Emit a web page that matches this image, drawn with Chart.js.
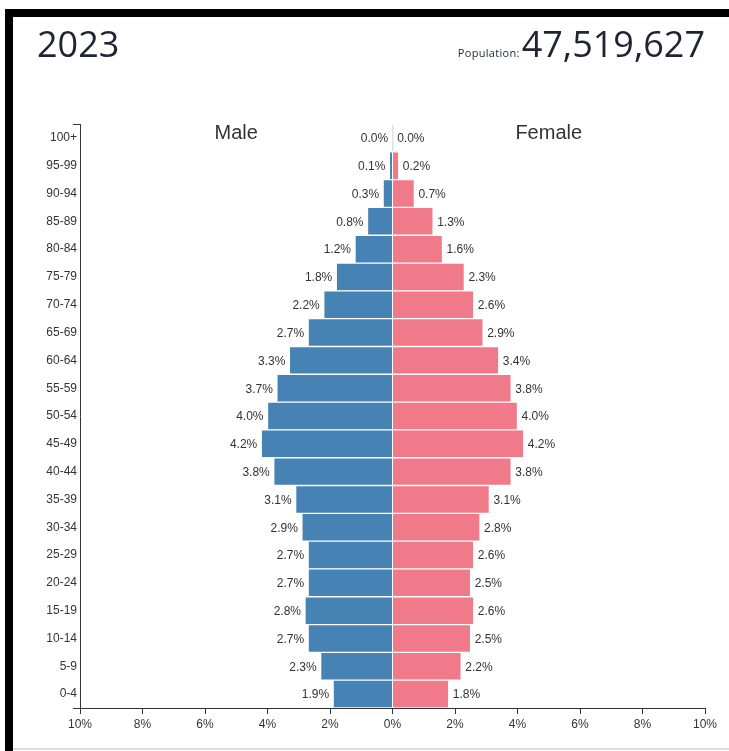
<!DOCTYPE html>
<html><head><meta charset="utf-8">
<script src="https://cdn.jsdelivr.net/npm/chart.js@4"></script>
<style>
html,body{margin:0;padding:0;background:#fff;width:729px;height:751px;overflow:hidden;}
#wrap{position:relative;width:729px;height:751px;}
#c{position:absolute;left:0;top:0;}
.fTop{position:absolute;left:5px;top:9px;width:724px;height:8px;background:#000;}
.fLeft{position:absolute;left:5px;top:9px;width:8px;height:742px;background:#000;}
.fBottom{position:absolute;left:13px;top:748px;width:716px;height:2px;background:#dcdcdc;}
#year{position:absolute;left:37px;top:26px;font-family:"Open Sans";font-size:36px;line-height:36px;color:#1f2433;}
#pop{position:absolute;right:24px;top:26px;display:flex;align-items:baseline;font-family:"Open Sans";color:#1f2433;line-height:36px;}
#pop .lbl{font-size:11px;letter-spacing:0.3px;margin-right:2px;}
#pop .num{font-size:36px;}
</style></head>
<body><div id="wrap">
<canvas id="c" width="729" height="751"></canvas>
<div class="fTop"></div><div class="fLeft"></div><div class="fBottom"></div>
<div id="year">2023</div>
<div id="pop"><span class="lbl">Population:</span><span class="num">47,519,627</span></div>
</div>
<script>
const ageGroups = ['100+','95-99','90-94','85-89','80-84','75-79','70-74','65-69','60-64','55-59','50-54','45-49','40-44','35-39','30-34','25-29','20-24','15-19','10-14','5-9','0-4'];
const malePct   = [0.01,0.1,0.3,0.8,1.2,1.8,2.2,2.7,3.3,3.7,4.0,4.2,3.8,3.1,2.9,2.7,2.7,2.8,2.7,2.3,1.9];
const femalePct = [0.02,0.2,0.7,1.3,1.6,2.3,2.6,2.9,3.4,3.8,4.0,4.2,3.8,3.1,2.8,2.6,2.5,2.6,2.5,2.2,1.8];
const xTickValues = [-10,-8,-6,-4,-2,0,2,4,6,8,10];
const sideTitles = ['Male','Female'];

Chart.defaults.font.family = '"Liberation Sans", Arial, sans-serif';
Chart.defaults.color = '#333';

const labelPlugin = {
  id: 'barLabels',
  afterDraw(chart) {
    const ctx = chart.ctx;
    const ca = chart.chartArea;
    const xs = chart.scales.x;
    ctx.save();
    ctx.font = '12px "Liberation Sans", Arial, sans-serif';
    ctx.fillStyle = '#333';
    ctx.textBaseline = 'middle';
    chart.data.datasets.forEach((ds, i) => {
      const meta = chart.getDatasetMeta(i);
      meta.data.forEach((bar, j) => {
        const txt = Math.abs(ds.data[j]).toFixed(1) + '%';
        if (i === 0) { ctx.textAlign = 'right'; ctx.fillText(txt, bar.x - 4, bar.y + 1); }
        else { ctx.textAlign = 'left'; ctx.fillText(txt, bar.x + 4, bar.y + 1); }
      });
    });
    ctx.font = '20px "Liberation Sans", Arial, sans-serif';
    ctx.textAlign = 'center';
    ctx.textBaseline = 'alphabetic';
    ctx.fillText(sideTitles[0], xs.getPixelForValue(-5), ca.top + 15);
    ctx.fillText(sideTitles[1], xs.getPixelForValue(5), ca.top + 15);
    // outer ticks of the age axis
    ctx.strokeStyle = '#333';
    ctx.lineWidth = 1;
    ctx.beginPath();
    ctx.moveTo(ca.left - 7, Math.round(ca.top) + 0.5); ctx.lineTo(ca.left, Math.round(ca.top) + 0.5);
    ctx.moveTo(ca.left - 7, Math.round(ca.bottom) + 0.5); ctx.lineTo(ca.left, Math.round(ca.bottom) + 0.5);
    ctx.stroke();
    ctx.restore();
  }
};

new Chart(document.getElementById('c'), {
  type: 'bar',
  data: {
    labels: ageGroups,
    datasets: [
      { label: 'Male', data: malePct.map(v => -v), backgroundColor: '#4682b4', borderColor: 'rgba(255,255,255,0.55)', borderWidth: 1 },
      { label: 'Female', data: femalePct, backgroundColor: '#f07a89', borderColor: 'rgba(255,255,255,0.55)', borderWidth: 1 }
    ]
  },
  options: {
    indexAxis: 'y',
    responsive: false,
    animation: false,
    layout: { padding: { top: 124, right: 24, bottom: 0, left: 0 } },
    plugins: { legend: { display: false }, tooltip: { enabled: false } },
    datasets: { bar: { barPercentage: 1, categoryPercentage: 1 } },
    scales: {
      x: {
        stacked: true, min: -10, max: 10,
        afterFit: s => { s.height = 43; },
        afterBuildTicks: s => { s.ticks = xTickValues.map(v => ({ value: v })); },
        ticks: { callback: v => Math.abs(v) + '%', font: { size: 12 }, color: '#333', padding: 3, maxRotation: 0 },
        grid: { display: true, drawOnChartArea: false, drawTicks: true, tickLength: 6, color: '#333', lineWidth: 1 },
        border: { display: true, color: '#333', width: 1 }
      },
      y: {
        stacked: true,
        afterFit: s => { s.width = 80; },
        ticks: { font: { size: 12 }, color: '#333', padding: 3, autoSkip: false },
        grid: { display: false, drawTicks: false },
        border: { display: true, color: '#333', width: 1 }
      }
    }
  },
  plugins: [labelPlugin]
});
</script>
</body></html>
